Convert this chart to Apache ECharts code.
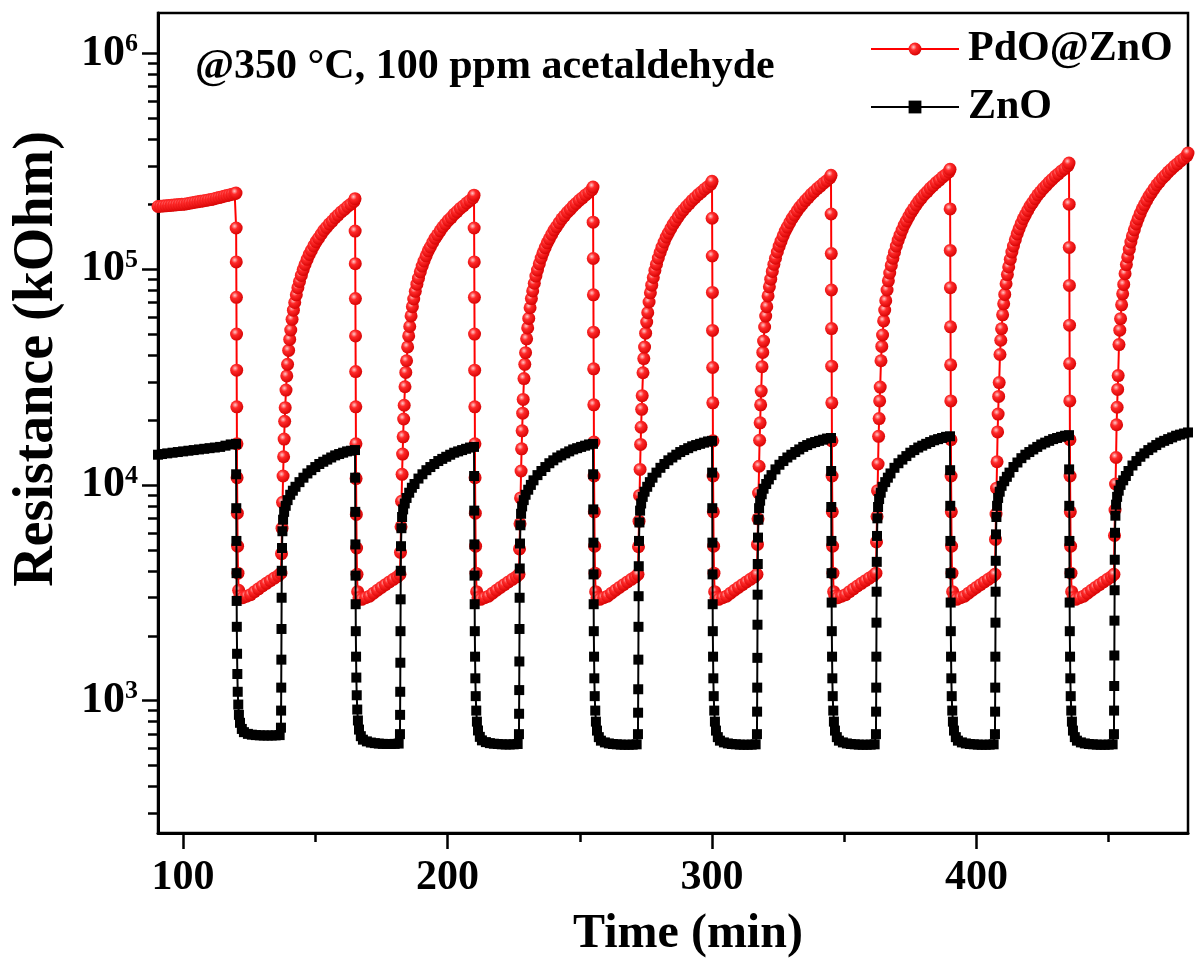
<!DOCTYPE html>
<html>
<head>
<meta charset="utf-8">
<script src="https://cdn.jsdelivr.net/npm/echarts@6/dist/echarts.min.js"></script>
<style>
html,body{margin:0;padding:0;background:#fff;}
#chart{width:1197px;height:972px;}
</style>
</head>
<body>
<div id="chart"></div>
<script>
// ---------------- data (time in min, resistance in kOhm) ----------------
const seriesNames = ['PdO@ZnO', 'ZnO'];
const xMajorTicks = [100, 200, 300, 400];
const xMinorTicks = [150, 250, 350, 450];
const yMajorTicks = [1e3, 1e4, 1e5, 1e6];
const yMinorTicks = [300, 400, 500, 600, 700, 800, 900, 2e3, 3e3, 4e3, 5e3, 6e3, 7e3, 8e3, 9e3,
  2e4, 3e4, 4e4, 5e4, 6e4, 7e4, 8e4, 9e4, 2e5, 3e5, 4e5, 5e5, 6e5, 7e5, 8e5, 9e5];

// PdO@ZnO baseline before first exposure
const pdoT0 = [90.5,91.5,92.5,93.5,94.5,95.5,96.5,97.5,98.5,99.5,100.5,101.5,102.5,103.5,104.5,105.5,106.5,107.5,108.5,109.5,110.5,111.5,112.5,113.5,114.5,115.5,116.5,117.5,118.5,119.5];
const pdoR0 = [1.95e5,1.955e5,1.96e5,1.965e5,1.97e5,1.975e5,1.98e5,1.985e5,1.99e5,1.995e5,2.0e5,2.01e5,2.02e5,2.03e5,2.04e5,2.05e5,2.06e5,2.07e5,2.08e5,2.09e5,2.1e5,2.115e5,2.13e5,2.145e5,2.16e5,2.175e5,2.19e5,2.205e5,2.22e5,2.235e5];

const pdoT1 = [120,120.05,120.1,120.15,120.2,120.25,120.3,120.35,120.4,120.5,120.6,120.75,121,121.5,122.5,124,125.5,127,128.5,130,131.5,133,134.5,136,137,
  137.2,137.4,137.6,137.8,138,138.2,138.4,138.6,138.9,139.2,139.5,139.9,140.3,140.7,141.2,141.7,142.2,142.8,143.4,144,144.7,145.4,146.1,146.9,147.7,148.5,149.4,150.3,151.2,152.2,153.2,154.2,155.3,156.4,157.5,158.6,159.8,161,162.2,163.4,164.6];
const pdoR1 = [2.25e5,1.55e5,1.08e5,7.4e4,5.0e4,3.4e4,2.3e4,1.55e4,1.08e4,7.4e3,5.2e3,3.9e3,3.25e3,3.05e3,3.0e3,3.05e3,3.1e3,3.2e3,3.3e3,3.4e3,3.5e3,3.6e3,3.7e3,3.8e3,3.9e3,
  4.8e3,6.3e3,8.3e3,1.1e4,1.35e4,1.63e4,1.97e4,2.28e4,2.75e4,3.2e4,3.62e4,4.2e4,4.72e4,5.22e4,5.85e4,6.45e4,7.0e4,7.6e4,8.2e4,8.75e4,9.35e4,9.95e4,1.05e5,1.11e5,1.17e5,1.22e5,1.28e5,1.34e5,1.39e5,1.45e5,1.51e5,1.56e5,1.62e5,1.67e5,1.73e5,1.78e5,1.84e5,1.89e5,1.95e5,2.0e5,2.06e5];

const pdoT2 = [165,165.05,165.1,165.15,165.2,165.25,165.3,165.35,165.4,165.5,165.6,165.75,166,166.5,167.5,169,170.5,172,173.5,175,176.5,178,179.5,181,182,
  182.2,182.4,182.6,182.8,183,183.2,183.4,183.6,183.9,184.2,184.5,184.9,185.3,185.7,186.2,186.7,187.2,187.8,188.4,189,189.7,190.4,191.1,191.9,192.7,193.5,194.4,195.3,196.2,197.2,198.2,199.2,200.3,201.4,202.5,203.6,204.8,206,207.2,208.4,209.6];
const pdoR2 = [2.12e5,1.5e5,1.06e5,7.3e4,4.9e4,3.35e4,2.3e4,1.55e4,1.07e4,7.3e3,5.1e3,3.85e3,3.2e3,3.0e3,2.95e3,3.0e3,3.05e3,3.15e3,3.25e3,3.35e3,3.45e3,3.55e3,3.65e3,3.75e3,3.85e3,
  4.87e3,6.4e3,8.4e3,1.12e4,1.39e4,1.67e4,2.02e4,2.34e4,2.85e4,3.32e4,3.76e4,4.36e4,4.9e4,5.42e4,6.07e4,6.7e4,7.27e4,7.89e4,8.51e4,9.08e4,9.71e4,1.033e5,1.09e5,1.152e5,1.215e5,1.266e5,1.329e5,1.391e5,1.443e5,1.505e5,1.567e5,1.619e5,1.682e5,1.733e5,1.796e5,1.848e5,1.91e5,1.962e5,2.024e5,2.076e5,2.138e5];

const pdoT3 = [210,210.05,210.1,210.15,210.2,210.25,210.3,210.35,210.4,210.5,210.6,210.75,211,211.5,212.5,214,215.5,217,218.5,220,221.5,223,224.5,226,227,
  227.2,227.4,227.6,227.8,228,228.2,228.4,228.6,228.9,229.2,229.5,229.9,230.3,230.7,231.2,231.7,232.2,232.8,233.4,234,234.7,235.4,236.1,236.9,237.7,238.5,239.4,240.3,241.2,242.2,243.2,244.2,245.3,246.4,247.5,248.6,249.8,251,252.2,253.4,254.6];
const pdoR3 = [2.2e5,1.55e5,1.08e5,7.4e4,5.0e4,3.4e4,2.3e4,1.55e4,1.08e4,7.4e3,5.2e3,3.9e3,3.2e3,3.0e3,2.95e3,3.0e3,3.05e3,3.15e3,3.25e3,3.35e3,3.45e3,3.55e3,3.65e3,3.75e3,3.85e3,
  5.05e3,6.6e3,8.7e3,1.16e4,1.47e4,1.78e4,2.15e4,2.49e4,3.11e4,3.62e4,4.1e4,4.75e4,5.34e4,5.91e4,6.62e4,7.3e4,7.92e4,8.6e4,9.28e4,9.9e4,1.058e5,1.126e5,1.189e5,1.257e5,1.324e5,1.381e5,1.449e5,1.517e5,1.573e5,1.641e5,1.709e5,1.766e5,1.834e5,1.89e5,1.958e5,2.015e5,2.083e5,2.139e5,2.207e5,2.264e5,2.332e5];

const pdoT4 = [255,255.05,255.1,255.15,255.2,255.25,255.3,255.35,255.4,255.5,255.6,255.75,256,256.5,257.5,259,260.5,262,263.5,265,266.5,268,269.5,271,272,
  272.2,272.4,272.6,272.8,273,273.2,273.4,273.6,273.9,274.2,274.5,274.9,275.3,275.7,276.2,276.7,277.2,277.8,278.4,279,279.7,280.4,281.1,281.9,282.7,283.5,284.4,285.3,286.2,287.2,288.2,289.2,290.3,291.4,292.5,293.6,294.8,296,297.2,298.4,299.6];
const pdoR4 = [2.4e5,1.65e5,1.12e5,7.6e4,5.1e4,3.45e4,2.35e4,1.58e4,1.1e4,7.5e3,5.2e3,3.9e3,3.2e3,3.0e3,2.95e3,3.0e3,3.05e3,3.15e3,3.25e3,3.35e3,3.45e3,3.55e3,3.65e3,3.75e3,3.85e3,
  5.17e3,6.79e3,8.94e3,1.18e4,1.54e4,1.85e4,2.24e4,2.59e4,3.31e4,3.85e4,4.35e4,5.05e4,5.68e4,6.28e4,7.04e4,7.76e4,8.42e4,9.14e4,9.86e4,1.053e5,1.125e5,1.197e5,1.263e5,1.335e5,1.408e5,1.468e5,1.54e5,1.612e5,1.672e5,1.744e5,1.817e5,1.877e5,1.949e5,2.009e5,2.081e5,2.141e5,2.214e5,2.274e5,2.346e5,2.406e5,2.478e5];

const pdoT5 = [300,300.05,300.1,300.15,300.2,300.25,300.3,300.35,300.4,300.5,300.6,300.75,301,301.5,302.5,304,305.5,307,308.5,310,311.5,313,314.5,316,317,
  317.2,317.4,317.6,317.8,318,318.2,318.4,318.6,318.9,319.2,319.5,319.9,320.3,320.7,321.2,321.7,322.2,322.8,323.4,324,324.7,325.4,326.1,326.9,327.7,328.5,329.4,330.3,331.2,332.2,333.2,334.2,335.3,336.4,337.5,338.6,339.8,341,342.2,343.4,344.6];
const pdoR5 = [2.55e5,1.72e5,1.15e5,7.8e4,5.2e4,3.5e4,2.4e4,1.6e4,1.1e4,7.5e3,5.2e3,3.9e3,3.2e3,3.0e3,2.95e3,3.0e3,3.05e3,3.15e3,3.25e3,3.35e3,3.45e3,3.55e3,3.65e3,3.75e3,3.85e3,
  5.3e3,6.96e3,9.17e3,1.22e4,1.61e4,1.94e4,2.35e4,2.72e4,3.53e4,4.11e4,4.64e4,5.39e4,6.06e4,6.7e4,7.51e4,8.28e4,8.98e4,9.75e4,1.052e5,1.123e5,1.2e5,1.277e5,1.347e5,1.424e5,1.501e5,1.565e5,1.642e5,1.719e5,1.783e5,1.86e5,1.937e5,2.001e5,2.078e5,2.143e5,2.22e5,2.284e5,2.361e5,2.425e5,2.502e5,2.566e5,2.643e5];

const pdoT6 = [345,345.05,345.1,345.15,345.2,345.25,345.3,345.35,345.4,345.5,345.6,345.75,346,346.5,347.5,349,350.5,352,353.5,355,356.5,358,359.5,361,362,
  362.2,362.4,362.6,362.8,363,363.2,363.4,363.6,363.9,364.2,364.5,364.9,365.3,365.7,366.2,366.7,367.2,367.8,368.4,369,369.7,370.4,371.1,371.9,372.7,373.5,374.4,375.3,376.2,377.2,378.2,379.2,380.3,381.4,382.5,383.6,384.8,386,387.2,388.4,389.6];
const pdoR6 = [2.72e5,1.8e5,1.18e5,8.0e4,5.3e4,3.55e4,2.4e4,1.6e4,1.1e4,7.5e3,5.2e3,3.9e3,3.2e3,3.05e3,3.0e3,3.05e3,3.1e3,3.2e3,3.3e3,3.4e3,3.5e3,3.6e3,3.7e3,3.8e3,3.9e3,
  5.44e3,7.14e3,9.4e3,1.25e4,1.68e4,2.03e4,2.45e4,2.84e4,3.76e4,4.38e4,4.95e4,5.75e4,6.46e4,7.14e4,8.0e4,8.82e4,9.58e4,1.04e5,1.122e5,1.197e5,1.279e5,1.361e5,1.436e5,1.518e5,1.601e5,1.669e5,1.751e5,1.833e5,1.902e5,1.984e5,2.066e5,2.134e5,2.216e5,2.285e5,2.367e5,2.435e5,2.517e5,2.586e5,2.668e5,2.736e5,2.818e5];

const pdoT7 = [390,390.05,390.1,390.15,390.2,390.25,390.3,390.35,390.4,390.5,390.6,390.75,391,391.5,392.5,394,395.5,397,398.5,400,401.5,403,404.5,406,407,
  407.2,407.4,407.6,407.8,408,408.2,408.4,408.6,408.9,409.2,409.5,409.9,410.3,410.7,411.2,411.7,412.2,412.8,413.4,414,414.7,415.4,416.1,416.9,417.7,418.5,419.4,420.3,421.2,422.2,423.2,424.2,425.3,426.4,427.5,428.6,429.8,431,432.2,433.4,434.6];
const pdoR7 = [2.9e5,1.9e5,1.22e5,8.2e4,5.4e4,3.6e4,2.45e4,1.62e4,1.1e4,7.5e3,5.2e3,3.9e3,3.2e3,3.0e3,2.95e3,3.0e3,3.05e3,3.15e3,3.25e3,3.35e3,3.45e3,3.55e3,3.65e3,3.75e3,3.85e3,
  5.59e3,7.33e3,9.66e3,1.28e4,1.76e4,2.13e4,2.57e4,2.98e4,4.02e4,4.68e4,5.29e4,6.14e4,6.9e4,7.63e4,8.55e4,9.43e4,1.023e5,1.111e5,1.199e5,1.279e5,1.367e5,1.455e5,1.535e5,1.623e5,1.711e5,1.784e5,1.871e5,1.959e5,2.032e5,2.12e5,2.208e5,2.281e5,2.368e5,2.442e5,2.529e5,2.602e5,2.69e5,2.763e5,2.851e5,2.924e5,3.012e5];

const pdoT8 = [435,435.05,435.1,435.15,435.2,435.25,435.3,435.35,435.4,435.5,435.6,435.75,436,436.5,437.5,439,440.5,442,443.5,445,446.5,448,449.5,451,452,
  452.2,452.4,452.6,452.8,453,453.2,453.4,453.6,453.9,454.2,454.5,454.9,455.3,455.7,456.2,456.7,457.2,457.8,458.4,459,459.7,460.4,461.1,461.9,462.7,463.5,464.4,465.3,466.2,467.2,468.2,469.2,470.3,471.4,472.5,473.6,474.8,476,477.2,478.4,479.6,480];
const pdoR8 = [3.1e5,2.0e5,1.26e5,8.4e4,5.5e4,3.65e4,2.45e4,1.62e4,1.1e4,7.5e3,5.2e3,3.9e3,3.2e3,3.0e3,2.95e3,3.0e3,3.05e3,3.15e3,3.25e3,3.35e3,3.45e3,3.55e3,3.65e3,3.75e3,3.85e3,
  5.83e3,7.65e3,1.01e4,1.34e4,1.9e4,2.29e4,2.77e4,3.21e4,4.47e4,5.21e4,5.89e4,6.83e4,7.68e4,8.49e4,9.52e4,1.049e5,1.139e5,1.237e5,1.334e5,1.424e5,1.521e5,1.619e5,1.708e5,1.806e5,1.904e5,1.985e5,2.083e5,2.18e5,2.262e5,2.359e5,2.457e5,2.538e5,2.636e5,2.717e5,2.815e5,2.896e5,2.994e5,3.075e5,3.173e5,3.254e5,3.352e5,3.45e5];

// ZnO baseline before first exposure
const znoT0 = [90.5, 92, 94, 96, 98, 100, 102, 104, 106, 108, 110, 112, 114, 116, 118];
const znoR0 = [1.38e4, 1.39e4, 1.4e4, 1.41e4, 1.42e4, 1.43e4, 1.44e4, 1.45e4, 1.46e4, 1.47e4, 1.48e4, 1.49e4, 1.5e4, 1.52e4, 1.54e4];

const znoT1 = [120,120.05,120.1,120.15,120.2,120.25,120.3,120.4,120.5,120.65,120.85,121.1,121.5,122.2,123,124.5,126,127.5,129,130.5,132,133.5,135,136.5,137,137.05,137.1,137.15,137.2,137.25,137.3,137.4,137.55,137.8,138.2,138.8,139.5,140.5,141.5,142.5,144,145.5,147,148.5,150,151.5,153,154.5,156,157.5,159,160.5,162,163.5];
const znoR1 = [1.55e4,1.12e4,7.8e3,5.5e3,3.9e3,2.9e3,2.2e3,1.65e3,1.33e3,1.1e3,960,860,790,740,715,702,696,693,691,690,690,690,691,693,750,900,1.15e3,1.55e3,2.15e3,3.0e3,4.0e3,5.1e3,6.1e3,6.9e3,7.5e3,8.0e3,8.5e3,9.0e3,9.4e3,9.8e3,1.03e4,1.08e4,1.13e4,1.17e4,1.21e4,1.25e4,1.28e4,1.31e4,1.34e4,1.37e4,1.39e4,1.41e4,1.43e4,1.44e4];

const znoT2 = [165,165.05,165.1,165.15,165.2,165.25,165.3,165.4,165.5,165.65,165.85,166.1,166.5,167.2,168,169.5,171,172.5,174,175.5,177,178.5,180,181.5,182,182.05,182.1,182.15,182.2,182.25,182.3,182.4,182.55,182.8,183.2,183.8,184.5,185.5,186.5,187.5,189,190.5,192,193.5,195,196.5,198,199.5,201,202.5,204,205.5,207,208.5];
const znoR2 = [1.45e4,1.08e4,7.5e3,5.3e3,3.8e3,2.8e3,2.1e3,1.6e3,1.28e3,1.06e3,910,810,735,685,660,648,640,636,633,631,630,630,631,633,700,860,1.1e3,1.5e3,2.1e3,2.95e3,4.0e3,5.2e3,6.3e3,7.1e3,7.7e3,8.2e3,8.7e3,9.2e3,9.7e3,1.01e4,1.07e4,1.12e4,1.17e4,1.21e4,1.25e4,1.29e4,1.32e4,1.35e4,1.38e4,1.41e4,1.43e4,1.45e4,1.47e4,1.49e4];

const znoT3 = [210,210.05,210.1,210.15,210.2,210.25,210.3,210.4,210.5,210.65,210.85,211.1,211.5,212.2,213,214.5,216,217.5,219,220.5,222,223.5,225,226.5,227,227.05,227.1,227.15,227.2,227.25,227.3,227.4,227.55,227.8,228.2,228.8,229.5,230.5,231.5,232.5,234,235.5,237,238.5,240,241.5,243,244.5,246,247.5,249,250.5,252,253.5];
const znoR3 = [1.5e4,1.1e4,7.6e3,5.3e3,3.8e3,2.8e3,2.1e3,1.6e3,1.27e3,1.05e3,900,800,728,680,655,643,636,632,630,628,627,627,628,630,700,870,1.12e3,1.52e3,2.15e3,3.0e3,4.1e3,5.35e3,6.5e3,7.35e3,7.95e3,8.5e3,9.0e3,9.5e3,1.0e4,1.05e4,1.11e4,1.16e4,1.21e4,1.26e4,1.3e4,1.34e4,1.37e4,1.4e4,1.43e4,1.46e4,1.48e4,1.5e4,1.52e4,1.54e4];

const znoT4 = [255,255.05,255.1,255.15,255.2,255.25,255.3,255.4,255.5,255.65,255.85,256.1,256.5,257.2,258,259.5,261,262.5,264,265.5,267,268.5,270,271.5,272,272.05,272.1,272.15,272.2,272.25,272.3,272.4,272.55,272.8,273.2,273.8,274.5,275.5,276.5,277.5,279,280.5,282,283.5,285,286.5,288,289.5,291,292.5,294,295.5,297,298.5];
const znoR4 = [1.55e4,1.12e4,7.7e3,5.4e3,3.85e3,2.8e3,2.1e3,1.6e3,1.27e3,1.05e3,900,800,727,678,653,641,634,630,628,626,625,625,626,628,700,880,1.13e3,1.55e3,2.2e3,3.05e3,4.2e3,5.5e3,6.7e3,7.6e3,8.2e3,8.8e3,9.3e3,9.8e3,1.03e4,1.08e4,1.14e4,1.2e4,1.25e4,1.3e4,1.34e4,1.38e4,1.42e4,1.45e4,1.48e4,1.51e4,1.53e4,1.55e4,1.57e4,1.59e4];

const znoT5 = [300,300.05,300.1,300.15,300.2,300.25,300.3,300.4,300.5,300.65,300.85,301.1,301.5,302.2,303,304.5,306,307.5,309,310.5,312,313.5,315,316.5,317,317.05,317.1,317.15,317.2,317.25,317.3,317.4,317.55,317.8,318.2,318.8,319.5,320.5,321.5,322.5,324,325.5,327,328.5,330,331.5,333,334.5,336,337.5,339,340.5,342,343.5];
const znoR5 = [1.6e4,1.14e4,7.8e3,5.4e3,3.85e3,2.8e3,2.1e3,1.6e3,1.27e3,1.05e3,900,800,727,678,653,641,634,630,628,626,625,625,626,628,700,890,1.15e3,1.58e3,2.25e3,3.1e3,4.3e3,5.7e3,6.9e3,7.8e3,8.45e3,9.05e3,9.6e3,1.01e4,1.06e4,1.11e4,1.18e4,1.24e4,1.29e4,1.34e4,1.38e4,1.42e4,1.46e4,1.5e4,1.53e4,1.56e4,1.58e4,1.6e4,1.62e4,1.64e4];

const znoT6 = [345,345.05,345.1,345.15,345.2,345.25,345.3,345.4,345.5,345.65,345.85,346.1,346.5,347.2,348,349.5,351,352.5,354,355.5,357,358.5,360,361.5,362,362.05,362.1,362.15,362.2,362.25,362.3,362.4,362.55,362.8,363.2,363.8,364.5,365.5,366.5,367.5,369,370.5,372,373.5,375,376.5,378,379.5,381,382.5,384,385.5,387,388.5];
const znoR6 = [1.65e4,1.16e4,7.9e3,5.5e3,3.9e3,2.85e3,2.1e3,1.6e3,1.27e3,1.05e3,900,800,727,678,653,641,634,630,628,626,625,625,626,628,700,890,1.15e3,1.6e3,2.3e3,3.2e3,4.4e3,5.8e3,7.0e3,7.9e3,8.6e3,9.2e3,9.8e3,1.03e4,1.08e4,1.13e4,1.2e4,1.26e4,1.31e4,1.36e4,1.41e4,1.45e4,1.49e4,1.52e4,1.55e4,1.58e4,1.61e4,1.63e4,1.65e4,1.67e4];

const znoT7 = [390,390.05,390.1,390.15,390.2,390.25,390.3,390.4,390.5,390.65,390.85,391.1,391.5,392.2,393,394.5,396,397.5,399,400.5,402,403.5,405,406.5,407,407.05,407.1,407.15,407.2,407.25,407.3,407.4,407.55,407.8,408.2,408.8,409.5,410.5,411.5,412.5,414,415.5,417,418.5,420,421.5,423,424.5,426,427.5,429,430.5,432,433.5];
const znoR7 = [1.68e4,1.17e4,8.0e3,5.5e3,3.9e3,2.85e3,2.1e3,1.6e3,1.27e3,1.05e3,900,800,727,678,653,641,634,630,628,626,625,625,626,628,700,890,1.15e3,1.6e3,2.3e3,3.2e3,4.45e3,5.9e3,7.1e3,8.0e3,8.7e3,9.3e3,9.9e3,1.04e4,1.09e4,1.14e4,1.21e4,1.27e4,1.33e4,1.38e4,1.42e4,1.46e4,1.5e4,1.54e4,1.57e4,1.6e4,1.63e4,1.65e4,1.67e4,1.69e4];

const znoT8 = [435,435.05,435.1,435.15,435.2,435.25,435.3,435.4,435.5,435.65,435.85,436.1,436.5,437.2,438,439.5,441,442.5,444,445.5,447,448.5,450,451.5,452,452.05,452.1,452.15,452.2,452.25,452.3,452.4,452.55,452.8,453.2,453.8,454.5,455.5,456.5,457.5,459,460.5,462,463.5,465,466.5,468,469.5,471,472.5,474,475.5,477,478.5,480];
const znoR8 = [1.7e4,1.18e4,8.0e3,5.5e3,3.9e3,2.85e3,2.1e3,1.6e3,1.27e3,1.05e3,900,800,727,678,653,641,634,630,628,626,625,625,626,628,700,900,1.17e3,1.62e3,2.35e3,3.25e3,4.5e3,6.0e3,7.2e3,8.1e3,8.8e3,9.4e3,1.0e4,1.05e4,1.1e4,1.16e4,1.23e4,1.29e4,1.35e4,1.4e4,1.45e4,1.49e4,1.53e4,1.57e4,1.6e4,1.63e4,1.66e4,1.69e4,1.71e4,1.73e4,1.75e4];

// ---------------- build ----------------
function zipAll(pairs) {
  const out = [];
  pairs.forEach(([t, r]) => { const n = Math.min(t.length, r.length); for (let i = 0; i < n; i++) out.push([t[i], r[i]]); });
  return out;
}
const pdoData = zipAll([[pdoT0,pdoR0],[pdoT1,pdoR1],[pdoT2,pdoR2],[pdoT3,pdoR3],[pdoT4,pdoR4],[pdoT5,pdoR5],[pdoT6,pdoR6],[pdoT7,pdoR7],[pdoT8,pdoR8]]);
const znoData = zipAll([[znoT0,znoR0],[znoT1,znoR1],[znoT2,znoR2],[znoT3,znoR3],[znoT4,znoR4],[znoT5,znoR5],[znoT6,znoR6],[znoT7,znoR7],[znoT8,znoR8]]);

const FONT = '"Liberation Serif", "Times New Roman", serif';
const X_MIN = 90.5, X_MAX = 480;
const Y_MIN = 243.8, Y_MAX = 1.537e6;

const redBall = {
  type: 'radial', x: 0.38, y: 0.35, r: 0.7,
  colorStops: [
    { offset: 0, color: '#ffc8c8' },
    { offset: 0.35, color: '#ff2a2a' },
    { offset: 1, color: '#d40000' }
  ]
};

const chart = echarts.init(document.getElementById('chart'), null, { renderer: 'canvas' });
const option = {
  animation: false,
  backgroundColor: '#ffffff',
  grid: { left: 158, right: 9, top: 13, bottom: 139, show: true, borderColor: '#000', borderWidth: 2.5, backgroundColor: 'transparent' },
  legend: {
    data: seriesNames,
    orient: 'vertical',
    left: 870, top: 28, padding: 0,
    itemWidth: 88, itemHeight: 16, itemGap: 16,
    textStyle: { fontFamily: FONT, fontWeight: 'bold', fontSize: 42, color: '#000', padding: [0, 0, 0, 4] }
  },
  xAxis: [
    {
      type: 'value', min: X_MIN, max: X_MAX, position: 'bottom',
      axisLine: { show: true, lineStyle: { color: '#000', width: 3 } },
      axisTick: { show: true, customValues: xMajorTicks, length: 16, lineStyle: { color: '#000', width: 2.5 } },
      axisLabel: { show: true, customValues: xMajorTicks, fontFamily: FONT, fontWeight: 'bold', fontSize: 42, color: '#000', margin: 24 },
      splitLine: { show: false }
    },
    {
      type: 'value', min: X_MIN, max: X_MAX, position: 'bottom',
      axisLine: { show: false },
      axisTick: { show: true, customValues: xMinorTicks, length: 9, lineStyle: { color: '#000', width: 2.5 } },
      axisLabel: { show: false },
      splitLine: { show: false }
    }
  ],
  yAxis: [
    {
      type: 'log', logBase: 10, min: Y_MIN, max: Y_MAX, position: 'left',
      axisLine: { show: true, lineStyle: { color: '#000', width: 3 } },
      axisTick: { show: true, customValues: yMajorTicks, length: 16, lineStyle: { color: '#000', width: 2.5 } },
      axisLabel: {
        show: true, customValues: yMajorTicks, margin: 20,
        formatter: function (v) { return '{b|10}{s|' + Math.round(Math.log10(v)) + '}'; },
        rich: {
          b: { fontFamily: FONT, fontWeight: 'bold', fontSize: 44, color: '#000', lineHeight: 44 },
          s: { fontFamily: FONT, fontWeight: 'bold', fontSize: 26, color: '#000', verticalAlign: 'top', lineHeight: 44, padding: [0, 0, 22, 0] }
        }
      },
      splitLine: { show: false }
    },
    {
      type: 'log', logBase: 10, min: Y_MIN, max: Y_MAX, position: 'left',
      axisLine: { show: false },
      axisTick: { show: true, customValues: yMinorTicks, length: 10, lineStyle: { color: '#000', width: 2.5 } },
      axisLabel: { show: false },
      splitLine: { show: false }
    }
  ],
  graphic: [
    { type: 'text', left: 195, top: 46, style: { text: '@350 °C, 100 ppm acetaldehyde', font: 'bold 42px ' + FONT, fill: '#000' } },
    { type: 'text', x: 38, y: 359, rotation: Math.PI / 2, style: { text: 'Resistance (kOhm)', font: 'bold 56px ' + FONT, fill: '#000', align: 'center', verticalAlign: 'middle', textAlign: 'center', textVerticalAlign: 'middle' } },
    { type: 'text', x: 688, y: 935, style: { text: 'Time (min)', font: 'bold 48px ' + FONT, fill: '#000', align: 'center', verticalAlign: 'middle', textAlign: 'center', textVerticalAlign: 'middle' } }
  ],
  series: [
    {
      name: seriesNames[0], type: 'line', xAxisIndex: 0, yAxisIndex: 0,
      data: pdoData, symbol: 'circle', symbolSize: 13, showSymbol: true,
      lineStyle: { color: '#ff0000', width: 2 },
      itemStyle: { color: redBall, borderWidth: 0 },
      z: 2
    },
    {
      name: seriesNames[1], type: 'line', xAxisIndex: 0, yAxisIndex: 0,
      data: znoData, symbol: 'rect', symbolSize: 10, showSymbol: true,
      lineStyle: { color: '#000000', width: 2 },
      itemStyle: { color: '#000000', borderWidth: 0 },
      z: 3
    }
  ]
};
chart.setOption(option);
</script>
</body>
</html>
